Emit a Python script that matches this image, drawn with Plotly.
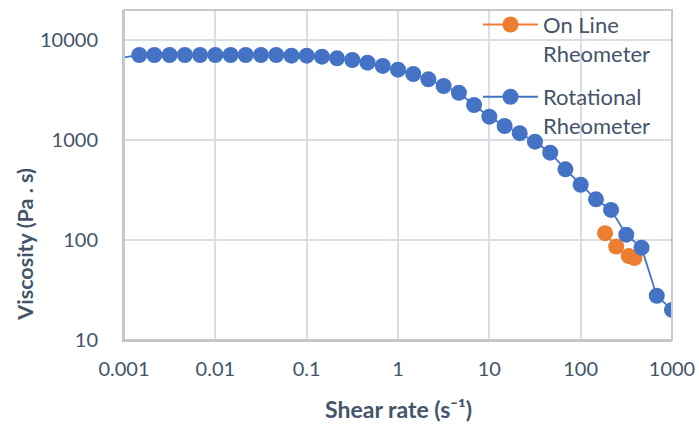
import plotly.graph_objects as go

# Rotational rheometer data (shear rate s^-1, viscosity Pa.s)
rot_shear = [0.000681, 0.00147, 0.00215, 0.00316, 0.00464, 0.00681, 0.01, 0.0147, 0.0215,
             0.0316, 0.0464, 0.0681, 0.1, 0.147, 0.215, 0.316, 0.464, 0.681, 1.0, 1.47,
             2.15, 3.16, 4.64, 6.81, 10, 14.7, 21.5, 31.6, 46.4, 68.1, 100, 147, 215,
             316, 464, 681, 1000]
rot_visc = [6370, 7080, 7080, 7080, 7080, 7080, 7080, 7080, 7080, 7080, 7080, 6970, 6970,
            6810, 6560, 6310, 5930, 5500, 5050, 4570, 4040, 3470, 2970, 2240, 1710, 1380,
            1170, 962, 747, 509, 357, 255, 200, 113, 83.8, 27.7, 20]

# On-line rheometer data
online_shear = [185, 245, 336, 388]
online_visc = [117, 86, 69, 66]

x_tickvals = [0.001, 0.01, 0.1, 1, 10, 100, 1000]
x_ticktext = ["0.001", "0.01", "0.1", "1", "10", "100", "1000"]
y_tickvals = [10, 100, 1000, 10000]
y_ticktext = ["10", "100", "1000", "10000"]

TXT = "#44546A"
FONT = "Lato"
GRID = "#DADEE4"

fig = go.Figure()
fig.add_trace(go.Scatter(
    x=online_shear, y=online_visc, mode="lines+markers",
    name="On Line<br>Rheometer", legendgroup="a",
    line=dict(color="#ED7D31", width=2),
    marker=dict(color="#ED7D31", size=16, line=dict(width=0)),
))
fig.add_trace(go.Scatter(
    x=rot_shear, y=rot_visc, mode="lines+markers",
    name="Rotational<br>Rheometer", legendgroup="b",
    line=dict(color="#4472C4", width=1.8),
    marker=dict(color="#4472C4", size=16, line=dict(width=0)),
))

fig.update_layout(
    width=699, height=428,
    margin=dict(l=124, r=27, t=10, b=88, autoexpand=False),
    paper_bgcolor="white", plot_bgcolor="white",
    font=dict(family=FONT, size=20, color=TXT),
    showlegend=True,
    legend=dict(x=0.646, y=1.019, xanchor="left", yanchor="top",
                bgcolor="rgba(0,0,0,0)", font=dict(family=FONT, size=22, color=TXT),
                valign="top", tracegroupgap=12, itemwidth=55),
    shapes=[dict(type="rect", xref="x domain", yref="y domain", x0=0, x1=1, y0=0, y1=1,
                 line=dict(color="#C9C9C9", width=2), layer="above")],
    annotations=[
        dict(text="<b>Shear rate (s⁻¹)</b>", xref="paper", yref="paper", x=0.5, y=-0.21,
             xanchor="center", yanchor="middle", showarrow=False,
             font=dict(family=FONT, size=23, color=TXT)),
        dict(text="<b>Viscosity (Pa . s)</b>", xref="paper", yref="paper", x=-0.18, y=0.29,
             xanchor="center", yanchor="middle", showarrow=False, textangle=-90,
             font=dict(family=FONT, size=21.5, color=TXT)),
    ],
)
fig.update_xaxes(type="log", range=[-3, 3], tickvals=x_tickvals, ticktext=x_ticktext,
                 showgrid=True, gridcolor=GRID, gridwidth=1.5, zeroline=False,
                 showline=True, linecolor="#BAC3D1", linewidth=2, ticks="",
                 ticklabelstandoff=10, tickfont=dict(family=FONT, size=20, color=TXT))
fig.update_yaxes(type="log", range=[1, 4.3], tickvals=y_tickvals, ticktext=y_ticktext,
                 showgrid=True, gridcolor=GRID, gridwidth=1.5, zeroline=False,
                 showline=True, linecolor="#BAC3D1", linewidth=2, ticks="",
                 ticklabelstandoff=20, tickfont=dict(family=FONT, size=20, color=TXT))

fig.write_html("out.html", config={"displayModeBar": False},
               post_script="document.body.style.margin='0px';")
